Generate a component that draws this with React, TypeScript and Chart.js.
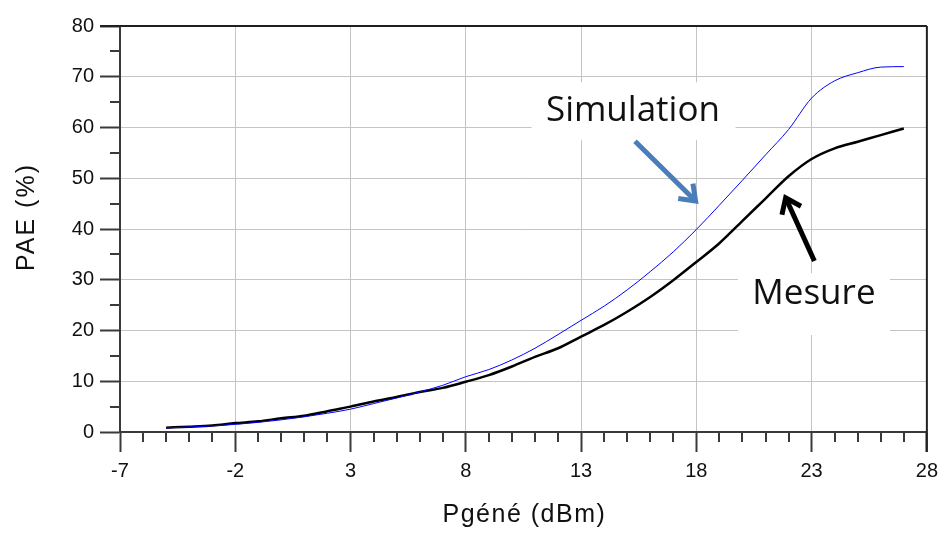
import React, { useEffect, useRef } from 'react';
import { Chart, registerables } from 'chart.js';

Chart.register(...registerables);

// ---- data ----
const X_VALUES = [-5, -4, -3, -2, -1, 0, 1, 2, 3, 4, 5, 6, 7, 8, 9, 10, 11, 12, 13, 14, 15, 16, 17, 18, 19, 20, 21, 22, 23, 24, 25, 26, 27];
const MESURE = [0.85, 1.05, 1.3, 1.75, 2.1, 2.7, 3.2, 4.1, 5.0, 6.0, 6.9, 7.9, 8.7, 9.9, 11.2, 12.9, 14.8, 16.5, 18.8, 21.1, 23.7, 26.6, 29.9, 33.5, 37.2, 41.6, 46.0, 50.4, 53.8, 55.9, 57.2, 58.5, 59.8];
const SIMULATION = [0.8, 1.0, 1.2, 1.5, 1.9, 2.4, 3.0, 3.7, 4.5, 5.6, 6.7, 7.9, 9.2, 10.9, 12.3, 14.2, 16.5, 19.2, 22.0, 24.8, 28.0, 31.6, 35.5, 39.9, 44.7, 49.6, 54.6, 59.6, 65.8, 69.2, 70.8, 71.9, 72.0];
const X_TICKS = [-7, -2, 3, 8, 13, 18, 23, 28];
const Y_TICKS = [0, 10, 20, 30, 40, 50, 60, 70, 80];
const X_MINOR_STEP = 1;
const Y_MINOR_STEP = 5;

const X_TITLE = 'Pgéné (dBm)';
const Y_TITLE = 'PAE (%)';
const SIM_LABEL = 'Simulation';
const MES_LABEL = 'Mesure';

// annotation anchors in data units
const SIM_BOX = { x0: 10.85, x1: 19.7, y0: 57.5, y1: 68.9 };
const MES_BOX = { x0: 19.8, x1: 26.4, y0: 19.1, y1: 31.3 };
const SIM_TEXT = { x: 15.25, y: 63.2 };
const MES_TEXT = { x: 23.1, y: 27.1 };
const SIM_ARROW = { x0: 15.34, y0: 57.3, x1: 18.06, y1: 45.1 };
const MES_ARROW = { x0: 23.12, y0: 33.7, x1: 21.82, y1: 46.7 };

const AXIS_COLOR = '#3a3a3a';
const TEXT_COLOR = '#111111';

function drawArrow(ctx: CanvasRenderingContext2D, x0: number, y0: number, x1: number, y1: number, color: string) {
  const ang = Math.atan2(y1 - y0, x1 - x0);
  const head = 20;
  ctx.save();
  ctx.strokeStyle = color;
  ctx.lineWidth = 5;
  ctx.lineCap = 'butt';
  ctx.lineJoin = 'miter';
  ctx.beginPath();
  ctx.moveTo(x0, y0);
  ctx.lineTo(x1 - Math.cos(ang) * 3, y1 - Math.sin(ang) * 3);
  ctx.stroke();
  ctx.beginPath();
  ctx.moveTo(x1 - head * Math.cos(ang - 0.55), y1 - head * Math.sin(ang - 0.55));
  ctx.lineTo(x1 - Math.cos(ang) * 3, y1 - Math.sin(ang) * 3);
  ctx.lineTo(x1 - head * Math.cos(ang + 0.55), y1 - head * Math.sin(ang + 0.55));
  ctx.stroke();
  ctx.restore();
}

const decor = {
  id: 'decor',
  beforeDatasetsDraw(chart: any) {
    const { ctx, scales } = chart;
    const x = scales.x, y = scales.y;
    ctx.save();
    ctx.fillStyle = '#ffffff';
    for (const b of [SIM_BOX, MES_BOX]) {
      const px0 = x.getPixelForValue(b.x0), px1 = x.getPixelForValue(b.x1);
      const py0 = y.getPixelForValue(b.y1), py1 = y.getPixelForValue(b.y0);
      ctx.fillRect(px0, py0, px1 - px0, py1 - py0);
    }
    ctx.restore();
  },
  afterDraw(chart: any) {
    const { ctx, chartArea: a, scales } = chart;
    const x = scales.x, y = scales.y;
    ctx.save();
    // minor ticks
    ctx.strokeStyle = AXIS_COLOR;
    ctx.lineWidth = 2;
    ctx.beginPath();
    for (let v = X_TICKS[0]; v <= X_TICKS[X_TICKS.length - 1]; v += X_MINOR_STEP) {
      if (X_TICKS.includes(v)) continue;
      const px = Math.round(x.getPixelForValue(v));
      ctx.moveTo(px, a.bottom);
      ctx.lineTo(px, a.bottom + 10);
    }
    for (let v = Y_TICKS[0]; v <= Y_TICKS[Y_TICKS.length - 1]; v += Y_MINOR_STEP) {
      if (Y_TICKS.includes(v)) continue;
      const py = Math.round(y.getPixelForValue(v));
      ctx.moveTo(a.left - 10, py);
      ctx.lineTo(a.left, py);
    }
    ctx.stroke();
    // top & right frame
    ctx.strokeStyle = '#202020';
    ctx.lineWidth = 2;
    ctx.beginPath();
    ctx.moveTo(a.left - 20, a.top);
    ctx.lineTo(a.right, a.top);
    ctx.moveTo(a.right, a.top);
    ctx.lineTo(a.right, a.bottom + 20);
    ctx.stroke();
    // axis titles
    ctx.fillStyle = TEXT_COLOR;
    ctx.font = '25px "Liberation Sans", Arial, sans-serif';
    ctx.textAlign = 'center';
    ctx.textBaseline = 'middle';
    (ctx as any).letterSpacing = '1.5px';
    ctx.fillText(X_TITLE, (a.left + a.right) / 2 + 1, chart.height - 20);
    ctx.save();
    ctx.translate(27, (a.top + a.bottom) / 2 - 12);
    ctx.rotate(-Math.PI / 2);
    (ctx as any).letterSpacing = '2px';
    ctx.fillText(Y_TITLE, 0, 0);
    ctx.restore();
    (ctx as any).letterSpacing = '0px';
    // annotations
    ctx.font = '35px "Open Sans", sans-serif';
    ctx.fillStyle = '#111111';
    ctx.fillText(SIM_LABEL, x.getPixelForValue(SIM_TEXT.x), y.getPixelForValue(SIM_TEXT.y));
    ctx.fillText(MES_LABEL, x.getPixelForValue(MES_TEXT.x), y.getPixelForValue(MES_TEXT.y));
    drawArrow(ctx, x.getPixelForValue(SIM_ARROW.x0), y.getPixelForValue(SIM_ARROW.y0), x.getPixelForValue(SIM_ARROW.x1), y.getPixelForValue(SIM_ARROW.y1), '#4a7ebb');
    drawArrow(ctx, x.getPixelForValue(MES_ARROW.x0), y.getPixelForValue(MES_ARROW.y0), x.getPixelForValue(MES_ARROW.x1), y.getPixelForValue(MES_ARROW.y1), '#000000');
    ctx.restore();
  },
};

export default function App() {
  const ref = useRef<HTMLCanvasElement | null>(null);
  useEffect(() => {
    if (!ref.current) return;
    const chart = new Chart(ref.current, {
      type: 'line',
      data: {
        datasets: [
          {
            label: SIM_LABEL,
            data: X_VALUES.map((v, i) => ({ x: v, y: SIMULATION[i] })),
            borderColor: '#0000ff',
            borderWidth: 1,
            pointRadius: 0,
            tension: 0,
            cubicInterpolationMode: 'monotone',
            fill: false,
          },
          {
            label: MES_LABEL,
            data: X_VALUES.map((v, i) => ({ x: v, y: MESURE[i] })),
            borderColor: '#000000',
            borderWidth: 2.5,
            pointRadius: 0,
            tension: 0,
            cubicInterpolationMode: 'monotone',
            fill: false,
          },
        ],
      },
      options: {
        responsive: false,
        animation: false,
        devicePixelRatio: 1,
        layout: { padding: { top: 26, right: 15, left: 0, bottom: 0 } },
        plugins: { legend: { display: false }, tooltip: { enabled: false }, title: { display: false } },
        scales: {
          x: {
            type: 'linear',
            min: X_TICKS[0],
            max: X_TICKS[X_TICKS.length - 1],
            afterBuildTicks: (s: any) => {
              s.ticks = X_TICKS.map((v) => ({ value: v }));
            },
            afterFit: (s: any) => {
              s.height = 103;
            },
            grid: { color: '#c4c4c4', lineWidth: 1, tickLength: 20, tickColor: AXIS_COLOR, tickWidth: 2 },
            border: { color: AXIS_COLOR, width: 2 },
            ticks: {
              autoSkip: false,
              maxRotation: 0,
              padding: 7,
              color: TEXT_COLOR,
              font: { family: '"Liberation Sans", Arial, sans-serif', size: 20 },
            },
          },
          y: {
            type: 'linear',
            min: Y_TICKS[0],
            max: Y_TICKS[Y_TICKS.length - 1],
            afterBuildTicks: (s: any) => {
              s.ticks = Y_TICKS.map((v) => ({ value: v }));
            },
            afterFit: (s: any) => {
              s.width = 120;
            },
            grid: { color: '#c4c4c4', lineWidth: 1, tickLength: 20, tickColor: AXIS_COLOR, tickWidth: 2 },
            border: { color: AXIS_COLOR, width: 2 },
            ticks: {
              padding: 6,
              color: TEXT_COLOR,
              font: { family: '"Liberation Sans", Arial, sans-serif', size: 20 },
            },
          },
        },
      },
      plugins: [decor],
    } as any);
    return () => chart.destroy();
  }, []);
  return (
    <div style={{ position: 'fixed', left: 0, top: 0, width: 945, height: 535, background: '#fff' }}>
      <canvas ref={ref} width={945} height={535} style={{ display: 'block' }} />
    </div>
  );
}
